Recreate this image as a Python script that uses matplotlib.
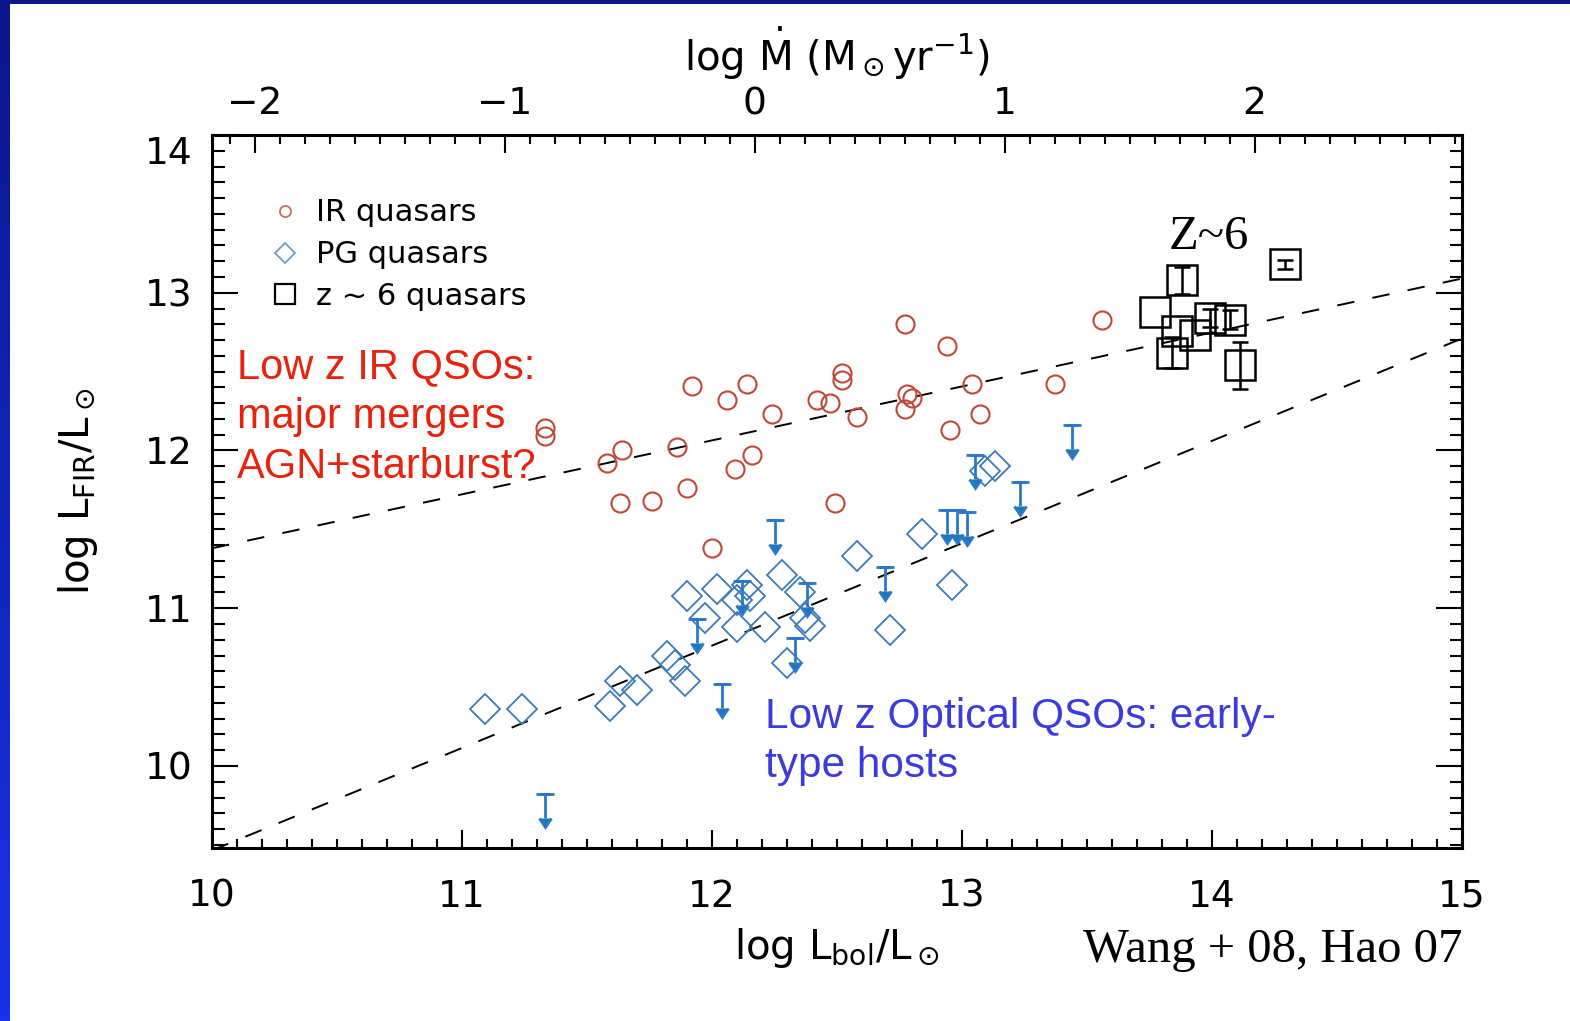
import numpy as np
import matplotlib
matplotlib.use('Agg')
import matplotlib.pyplot as plt
import matplotlib.transforms as mtransforms
from matplotlib.lines import Line2D
from matplotlib.patches import Rectangle
from matplotlib.colors import LinearSegmentedColormap

plt.rcParams['font.family'] = ['DejaVu Sans']
plt.rcParams['mathtext.fontset'] = 'dejavusans'

# IR-selected low z quasars: log Lbol, log LFIR (Lsun)
ir_lbol = [11.33, 11.33, 11.58, 11.64, 11.86, 11.92, 12.06, 12.14, 12.09, 12.16, 11.63,
           11.76, 11.90, 12.24, 12.42, 12.47, 12.52, 12.52, 12.58, 12.49, 12.77, 12.94,
           12.78, 12.80, 12.77, 13.04, 12.95, 13.07, 13.37, 13.56, 12.00]
ir_lfir = [12.14, 12.09, 11.92, 12.00, 12.02, 12.41, 12.32, 12.42, 11.88, 11.97, 11.67,
           11.68, 11.76, 12.23, 12.32, 12.30, 12.49, 12.45, 12.21, 11.67, 12.80, 12.66,
           12.36, 12.33, 12.26, 12.42, 12.13, 12.23, 12.42, 12.83, 11.38]

# PG quasars, FIR detections
pg_lbol = [11.09, 11.24, 11.59, 11.63, 11.70, 11.82, 11.85, 11.89, 11.90, 11.97, 12.02,
           12.10, 12.14, 12.15, 12.10, 12.21, 12.28, 12.35, 12.37, 12.39, 12.30, 12.58,
           12.71, 12.84, 12.96, 13.09, 13.13]
pg_lfir = [10.36, 10.36, 10.38, 10.54, 10.48, 10.70, 10.64, 10.54, 11.08, 10.94, 11.12,
           11.05, 11.15, 11.08, 10.88, 10.88, 11.21, 11.10, 10.94, 10.89, 10.65, 11.33,
           10.86, 11.47, 11.15, 11.87, 11.90]

# PG quasars, FIR upper limits
ul_lbol = [11.33, 12.04, 11.94, 12.25, 12.38, 12.33, 12.69, 12.94, 12.98, 13.02, 13.05,
           13.23, 13.44, 12.12]
ul_lfir = [9.82, 10.52, 10.93, 11.56, 11.16, 10.81, 11.26, 11.62, 11.62, 11.61, 11.97,
           11.80, 12.16, 11.17]

# z ~ 6 quasars with LFIR errors
z6_lbol = [13.88, 13.77, 13.86, 13.93, 13.99, 14.07, 13.84, 14.11, 14.29]
z6_lfir = [13.08, 12.88, 12.76, 12.73, 12.84, 12.83, 12.62, 12.54, 13.18]
z6_err = [0.085, 0.0, 0.0, 0.0, 0.06, 0.06, 0.10, 0.15, 0.03]

# dashed reference relations
fit_x = [10.0, 15.0]
fit_hi = [11.38, 13.09]
fit_lo = [9.465, 12.71]

# log Lbol (Lsun) of 1 Msun/yr accretion at 10% efficiency
MDOT_OFFSET = 12.17

W, H = 1570, 1021
fig = plt.figure(figsize=(W / 100, H / 100), dpi=100)
fig.patch.set_facecolor('white')

# slide border
edge = fig.add_axes([0, 0, 10 / W, 1])
edge.imshow(np.linspace(0, 1, 256)[:, None], aspect='auto',
            cmap=LinearSegmentedColormap.from_list('edge', ['#0b168c', '#1634e8']))
edge.axis('off')
fig.add_artist(Rectangle((0, 1 - 4 / H), 1, 4 / H, transform=fig.transFigure,
                         color='#0b168c', lw=0))

ax = fig.add_axes([212 / W, 1 - 848 / H, 1250 / W, 713 / H])
ax.set_xlim(10, 15)
ax.set_ylim(9.48, 14.0)

dash = (0, (9, 9.5))
ax.plot(fit_x, fit_hi, color='black', lw=1.4, ls=dash)
ax.plot(fit_x, fit_lo, color='black', lw=1.4, ls=dash)

ir_col = '#c04838'
pg_col = '#3d7bb8'
ul_col = '#2a78cc'

ax.plot(ir_lbol, ir_lfir, 'o', ms=13, mfc='none', mec=ir_col, mew=1.5)
ax.plot(pg_lbol, pg_lfir, 'D', ms=15, mfc='none', mec=pg_col, mew=1.3)

ax.errorbar(ul_lbol, ul_lfir, yerr=0.15, uplims=True, fmt='none', ecolor=ul_col,
            elinewidth=2, capsize=4.5, capthick=2)
ax.plot(ul_lbol, ul_lfir, '_', ms=13, mew=2, color=ul_col)

z6_lbol = np.array(z6_lbol)
z6_lfir = np.array(z6_lfir)
z6_err = np.array(z6_err)
has_err = z6_err > 0
ax.errorbar(z6_lbol[has_err], z6_lfir[has_err], yerr=z6_err[has_err], fmt='none',
            ecolor='black', elinewidth=1.8, capsize=6, capthick=1.8)
ax.plot(z6_lbol, z6_lfir, 's', ms=21, mfc='none', mec='black', mew=1.8)

# axes frame and ticks
for sp in ax.spines.values():
    sp.set_linewidth(2.2)
ax.set_xticks(np.arange(10, 15.5, 1))
ax.set_xticks(np.arange(10, 15.01, 0.1), minor=True)
ax.set_yticks([10, 11, 12, 13, 14])
ax.set_yticks(np.arange(9.5, 14.01, 0.1), minor=True)
ax.tick_params(axis='x', which='major', direction='in', length=13, width=1.5,
               top=False, labelsize=27, pad=22)
ax.tick_params(axis='x', which='minor', direction='in', length=6.5, width=1.5, top=False)
ax.tick_params(axis='y', which='major', direction='in', length=19, width=1.5,
               right=True, labelsize=27, pad=14)
ax.tick_params(axis='y', which='minor', direction='in', length=9, width=1.5, right=True)

ax.set_xlabel(r'log L$_{\rm bol}$/L$_\odot$', fontsize=29)
ax.xaxis.set_label_coords(0.5, -0.11)
ax.set_ylabel(r'log L$_{\rm FIR}$/L$_\odot$', fontsize=29)
ax.yaxis.set_label_coords(-0.09, 0.5)

sec = ax.secondary_xaxis('top', functions=(lambda x: x - MDOT_OFFSET,
                                           lambda m: m + MDOT_OFFSET))
sec.set_xticks([-2, -1, 0, 1, 2])
sec.set_xticks(np.arange(-2.1, 2.85, 0.1), minor=True)
sec.tick_params(which='major', direction='in', length=13, width=1.5, labelsize=27, pad=9)
sec.tick_params(which='minor', direction='in', length=6.5, width=1.5)
sec.set_xlabel(r'log $\dot{\mathrm{M}}$ (M$_\odot$yr$^{-1}$)', fontsize=29)
sec.xaxis.set_label_coords(0.5, 1.09, transform=ax.transAxes)

# top y label sits a little below its tick
top_lab = ax.yaxis.get_major_ticks()[-1].label1
top_lab.set_transform(top_lab.get_transform() +
                      mtransforms.ScaledTranslation(0, -11 / 72, fig.dpi_scale_trans))

handles = [
    Line2D([], [], ls='none', marker='o', ms=8, mfc='none', mec='#c8705f', mew=1.3,
           label='IR quasars'),
    Line2D([], [], ls='none', marker='D', ms=10, mfc='none', mec='#6f9ccc', mew=1.3,
           label='PG quasars'),
    Line2D([], [], ls='none', marker='s', ms=14, mfc='none', mec='black', mew=1.6,
           label='z ~ 6 quasars'),
]
ax.legend(handles=handles, loc='upper left', bbox_to_anchor=(0.049, 0.911), frameon=False,
          borderpad=0, borderaxespad=0, handlelength=0.8, handletextpad=0.6,
          labelspacing=0.42, prop={'size': 22})

ax.text(0.02, 0.7027, 'Low z IR QSOs:\nmajor mergers\nAGN+starburst?',
        transform=ax.transAxes, ha='left', va='top', fontsize=30,
        family='Liberation Sans', color='#e8220c', linespacing=1.33)
ax.text(0.4424, 0.2118, 'Low z Optical QSOs: early-\ntype hosts',
        transform=ax.transAxes, ha='left', va='top', fontsize=30.5,
        family='Liberation Sans', color='#3c3cdc', linespacing=1.3)
ax.text(0.7976, 0.857, 'Z~6', transform=ax.transAxes, ha='center', va='center',
        fontsize=35, family='Liberation Serif', color='black')
fig.text(1083 / W, 1 - 950 / H, 'Wang + 08, Hao 07', ha='left', va='center',
         fontsize=35, family='Liberation Serif', color='black')

fig.savefig('out.png', dpi=100)
